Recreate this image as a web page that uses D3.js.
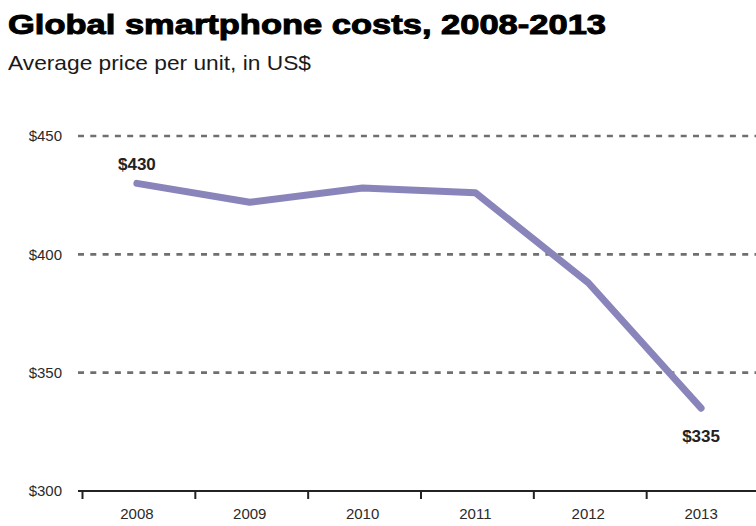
<!DOCTYPE html>
<html>
<head>
<meta charset="utf-8">
<script src="https://cdn.jsdelivr.net/npm/d3@7/dist/d3.min.js"></script>
<style>
  html, body { margin: 0; padding: 0; background: #fff; }
  svg { display: block; }
</style>
</head>
<body>
<svg id="chart" width="756" height="526"></svg>
<script>
// ---- data ----
const years = ["2008", "2009", "2010", "2011", "2012", "2013"];
const prices = [430, 422, 428, 426, 388, 335];
const yTicks = [300, 350, 400, 450];
const yTickLabels = ["$300", "$350", "$400", "$450"];
const labelledPoints = [
  { year: "2008", value: 430, text: "$430", pos: "above" },
  { year: "2013", value: 335, text: "$335", pos: "below" }
];
const title = "Global smartphone costs, 2008-2013";
const subtitle = "Average price per unit, in US$";

// ---- drawing ----
const W = 756, H = 526;
const svg = d3.select("#chart");
const baseFont = "'Liberation Sans', Arial, sans-serif";

const x = d3.scaleBand().domain(years).range([82.5, 759.5]).padding(0);
const y = d3.scaleLinear().domain([300, 450]).range([491, 136]);
const gridX0 = 78;

// title
svg.append("text")
  .attr("x", 8).attr("y", 34)
  .attr("font-family", baseFont)
  .attr("font-weight", "bold")
  .attr("font-size", 28)
  .attr("fill", "#000")
  .attr("stroke", "#000").attr("stroke-width", 1)
  .attr("textLength", 598).attr("lengthAdjust", "spacingAndGlyphs")
  .text(title);

svg.append("text")
  .attr("x", 8).attr("y", 70)
  .attr("font-family", "'Liberation Sans Narrow', 'Liberation Sans', Arial, sans-serif")
  .attr("font-size", 21)
  .attr("fill", "#1a1a1a")
  .attr("textLength", 303).attr("lengthAdjust", "spacingAndGlyphs")
  .text(subtitle);

// gridlines (dashed) for ticks above baseline
const gridG = svg.append("g");
gridG.selectAll("line")
  .data(yTicks.filter(v => v > 300))
  .join("line")
  .attr("x1", gridX0).attr("x2", W)
  .attr("y1", d => y(d)).attr("y2", d => y(d))
  .attr("stroke", "#6f6f6f")
  .attr("stroke-width", 2.6)
  .attr("stroke-dasharray", "6,6.3");

// y labels
svg.append("g").selectAll("text")
  .data(yTicks)
  .join("text")
  .attr("x", 62)
  .attr("y", d => y(d))
  .attr("dy", "0.35em")
  .attr("text-anchor", "end")
  .attr("font-family", baseFont)
  .attr("font-size", 15)
  .attr("fill", "#2a2a2a")
  .text((d, i) => yTickLabels[i]);

// x axis line
svg.append("line")
  .attr("x1", gridX0).attr("x2", W)
  .attr("y1", y(300)).attr("y2", y(300))
  .attr("stroke", "#222").attr("stroke-width", 2);

// ticks at band boundaries
const tickPos = years.map(d => x(d));
svg.append("g").selectAll("line")
  .data(tickPos)
  .join("line")
  .attr("x1", d => d).attr("x2", d => d)
  .attr("y1", y(300)).attr("y2", y(300) + 8)
  .attr("stroke", "#222").attr("stroke-width", 2);

// x labels
svg.append("g").selectAll("text")
  .data(years)
  .join("text")
  .attr("x", d => x(d) + x.bandwidth() / 2 - 2)
  .attr("y", 519)
  .attr("text-anchor", "middle")
  .attr("font-family", baseFont)
  .attr("font-size", 15)
  .attr("fill", "#2a2a2a")
  .text(d => d);

// line
const pts = years.map((yr, i) => ({ year: yr, value: prices[i] }));
const lineGen = d3.line()
  .x(d => x(d.year) + x.bandwidth() / 2 - 2)
  .y(d => y(d.value));
svg.append("path")
  .datum(pts)
  .attr("d", lineGen)
  .attr("fill", "none")
  .attr("stroke", "#8985bb")
  .attr("stroke-width", 7)
  .attr("stroke-linecap", "round")
  .attr("stroke-linejoin", "round");

// data labels
svg.append("g").selectAll("text")
  .data(labelledPoints)
  .join("text")
  .attr("x", d => x(d.year) + x.bandwidth() / 2 - 2)
  .attr("y", d => d.pos === "above" ? y(d.value) - 13 : y(d.value) + 34)
  .attr("text-anchor", "middle")
  .attr("font-family", baseFont)
  .attr("font-weight", "bold")
  .attr("font-size", 17)
  .attr("fill", "#222")
  .text(d => d.text);
</script>
</body>
</html>
